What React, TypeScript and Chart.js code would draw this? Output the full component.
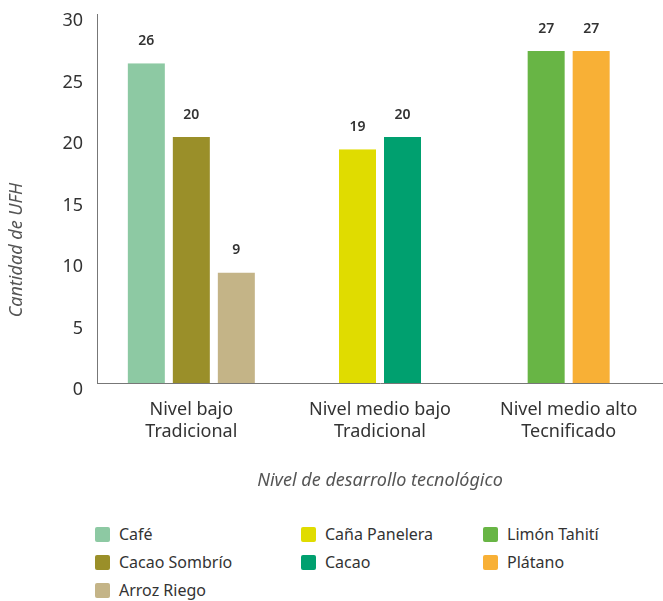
import React, { useEffect, useRef } from "react";
import { Chart, registerables } from "chart.js";

Chart.register(...registerables);

const FONT = '"Noto Sans", sans-serif';

const categories: string[][] = [
  ["Nivel bajo", "Tradicional"],
  ["Nivel medio bajo", "Tradicional"],
  ["Nivel medio alto", "Tecnificado"],
];

const seriesNames = [
  "Café",
  "Cacao Sombrío",
  "Arroz Riego",
  "Caña Panelera",
  "Cacao",
  "Limón Tahití",
  "Plátano",
];

const cafe = [26, null, null];
const cacaoSombrio = [20, null, null];
const arrozRiego = [9, null, null];
const canaPanelera = [null, 19, null];
const cacao = [null, 20, null];
const limonTahiti = [null, null, 27];
const platano = [null, null, 27];

const seriesValues = [cafe, cacaoSombrio, arrozRiego, canaPanelera, cacao, limonTahiti, platano];

const seriesColors = [
  "#8dc9a3",
  "#9a8f29",
  "#c4b487",
  "#e0dc00",
  "#00a06f",
  "#68b545",
  "#f8b036",
];

const yMin = 0;
const yMax = 30;
const yStep = 5;

const yTitle = "Cantidad de UFH";
const xTitle = "Nivel de desarrollo tecnológico";

const legendColumns = [[0, 1, 2], [3, 4], [5, 6]];
const legendColumnLeft = [95, 301, 483];

const valueLabelPlugin = {
  id: "valueLabels",
  afterDatasetsDraw(chart: any) {
    const ctx = chart.ctx;
    ctx.save();
    ctx.font = `600 14px ${FONT}`;
    ctx.fillStyle = "#333333";
    ctx.textAlign = "center";
    ctx.textBaseline = "middle";
    chart.data.datasets.forEach((ds: any, di: number) => {
      const meta = chart.getDatasetMeta(di);
      meta.data.forEach((el: any, i: number) => {
        const v = ds.data[i];
        if (v === null || v === undefined) return;
        ctx.fillText(String(v), el.x, el.y - 22);
      });
    });
    ctx.restore();
  },
};

const yTitlePlugin = {
  id: "yTitleCustom",
  afterDraw(chart: any) {
    const ctx = chart.ctx;
    ctx.save();
    ctx.translate(17, 250);
    ctx.rotate(-Math.PI / 2);
    ctx.font = `italic 18px ${FONT}`;
    ctx.fillStyle = "#555555";
    ctx.textAlign = "center";
    ctx.textBaseline = "middle";
    ctx.fillText(yTitle, 0, 0);
    ctx.restore();
  },
};

export default function App() {
  const canvasRef = useRef<HTMLCanvasElement | null>(null);

  useEffect(() => {
    if (!canvasRef.current) return;
    const chart = new Chart(canvasRef.current, {
      type: "bar",
      data: {
        labels: categories,
        datasets: seriesNames.map((name, i) => ({
          label: name,
          data: seriesValues[i],
          backgroundColor: seriesColors[i],
          borderColor: "#ffffff",
          borderWidth: { left: 4, right: 4, top: 0, bottom: 0 },
          barThickness: 45,
          skipNull: true,
          inflateAmount: 0,
        })) as any,
      },
      options: {
        animation: false,
        responsive: false,
        maintainAspectRatio: false,
        layout: { padding: { top: 14, left: 0, right: 0, bottom: 8 } },
        plugins: {
          legend: { display: false },
          tooltip: { enabled: false },
        },
        scales: {
          x: {
            grid: { display: false, drawTicks: false },
            border: { display: true, color: "#777777", width: 1, z: 1 } as any,
            ticks: {
              font: { family: FONT, size: 18 },
              color: "#333333",
              padding: 16,
              maxRotation: 0,
              autoSkip: false,
            },
            title: {
              display: true,
              text: xTitle,
              font: { family: FONT, size: 18, style: "italic" },
              color: "#555555",
              padding: { top: 12, bottom: 0 },
            },
          },
          y: {
            min: yMin,
            max: yMax,
            afterFit: (scale: any) => {
              scale.width = 97;
              scale.paddingTop = 0;
              scale.paddingBottom = 0;
            },
            grid: { display: false, drawTicks: false },
            border: { display: true, color: "#777777", width: 1, z: 1 } as any,
            ticks: {
              stepSize: yStep,
              padding: 14,
              labelOffset: 7,
              font: { family: FONT, size: 18 },
              color: "#333333",
            },
          },
        },
      },
      plugins: [valueLabelPlugin, yTitlePlugin],
    });
    return () => chart.destroy();
  }, []);

  return (
    <div
      style={{
        position: "absolute",
        left: 0,
        top: 0,
        width: 663,
        height: 601,
        background: "#ffffff",
        overflow: "hidden",
        fontFamily: FONT,
      }}
    >
      <canvas ref={canvasRef} width={663} height={500} style={{ display: "block" }} />
      {legendColumns.map((col, ci) =>
        col.map((si, ri) => (
          <div
            key={si}
            style={{
              position: "absolute",
              left: legendColumnLeft[ci],
              top: 534 + ri * 28 - 14,
              height: 28,
              display: "flex",
              alignItems: "center",
              whiteSpace: "nowrap",
            }}
          >
            <span
              style={{
                display: "inline-block",
                width: 15,
                height: 15,
                borderRadius: 2,
                background: seriesColors[si],
                marginRight: 9,
              }}
            />
            <span style={{ fontSize: 16, color: "#333333" }}>{seriesNames[si]}</span>
          </div>
        ))
      )}
    </div>
  );
}
